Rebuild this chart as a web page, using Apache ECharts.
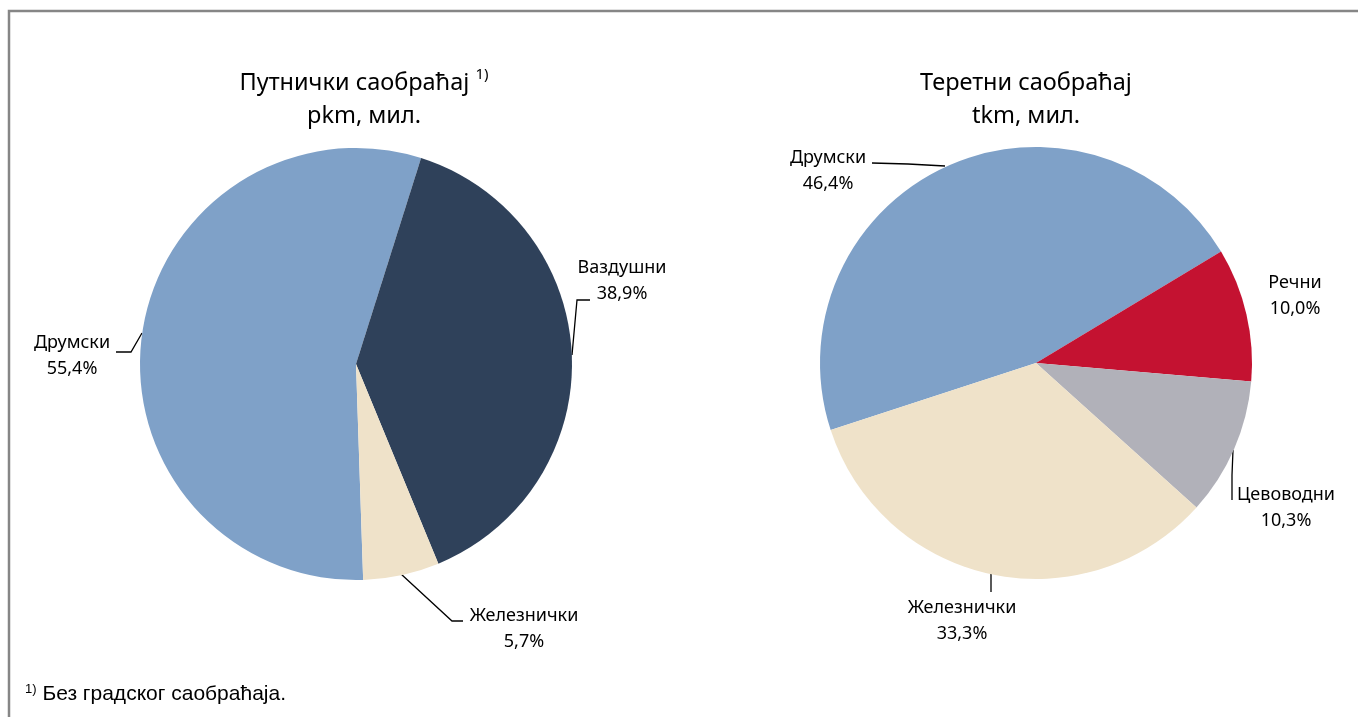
<!DOCTYPE html>
<html>
<head>
<meta charset="utf-8">
<script src="https://cdn.jsdelivr.net/npm/echarts@6/dist/echarts.min.js"></script>
<style>
    html, body { margin: 0; padding: 0; background: #fff; }
    #grafico { width: 1358px; height: 717px; }
</style>
</head>
<body>
<div id="grafico"></div>
<script>
// Podaci
const putnickiKategorije = ['Друмски', 'Ваздушни', 'Железнички'];
const putnickiUdeo = [55.4, 38.9, 5.7];

const teretniKategorije = ['Друмски', 'Речни', 'Цевоводни', 'Железнички'];
const teretniUdeo = [46.4, 10.0, 10.3, 33.3];

const BOJE = {
    'Друмски': '#7FA1C8',
    'Ваздушни': '#2F415A',
    'Железнички': '#EFE2C9',
    'Речни': '#C41231',
    'Цевоводни': '#B1B1B9'
};

const FONT = '"Noto Sans", sans-serif';
const centarLevo = [356, 364];
const centarDesno = [1036, 363];

// položaj natpisa (centar teksta) i linija, relativno u odnosu na centar pite
const natpisiLevo = [
    {pos: [-284, -8], linija: [[-214, -31], [-225, -12], [-240, -12]]},
    {pos: [266, -83], linija: [[216, -9], [221, -64], [234, -64]]},
    {pos: [168, 265], linija: [[45, 210], [96, 257], [107, 257]]}
];
const natpisiDesno = [
    {pos: [-208, -192], linija: [[-91, -197], [-128, -199], [-164, -200]]},
    {pos: [259, -67], linija: null},
    {pos: [250, 145], linija: [[197, 87], [196, 112], [196, 137]]},
    {pos: [-74, 258], linija: [[-45, 211], [-45, 220], [-45, 229]]}
];

function procenat(v) {
    return v.toFixed(1).replace('.', ',') + '%';
}

function napraviSeriju(kategorije, vrednosti, centar, natpisi, pocetniUgao) {
    return {
        type: 'pie',
        radius: 216,
        center: centar,
        startAngle: pocetniUgao,
        clockwise: true,
        avoidLabelOverlap: false,
        animation: false,
        silent: true,
        data: kategorije.map((k, i) => ({
            name: k,
            value: vrednosti[i],
            itemStyle: {color: BOJE[k]},
            labelLine: {show: natpisi[i].linija !== null}
        })),
        label: {
            show: true,
            position: 'outside',
            formatter: p => p.name + '\n' + procenat(p.value),
            fontFamily: FONT,
            fontSize: 18,
            lineHeight: 26,
            color: '#000',
            align: 'center'
        },
        labelLine: {
            show: true,
            lineStyle: {color: '#000', width: 1.3}
        },
        labelLayout: function (params) {
            const n = natpisi[params.dataIndex];
            const res = {
                x: centar[0] + n.pos[0],
                y: centar[1] + n.pos[1],
                align: 'center',
                verticalAlign: 'middle'
            };
            if (n.linija) {
                res.labelLinePoints = n.linija.map(t => [centar[0] + t[0], centar[1] + t[1]]);
            }
            return res;
        }
    };
}

const myChart = echarts.init(document.getElementById('grafico'));

const option = {
    backgroundColor: '#fff',
    title: [
        {
            text: 'Путнички саобраћај {sup|1)}\npkm, мил.',
            left: 359,
            top: 62,
            textAlign: 'center',
            textStyle: {
                fontFamily: FONT,
                fontSize: 23.5,
                fontWeight: 'normal',
                color: '#000',
                lineHeight: 33,
                rich: {
                    sup: {fontFamily: FONT, fontSize: 15, verticalAlign: 'top', padding: [0, 0, 12, 0], color: '#000'}
                }
            }
        },
        {
            text: 'Теретни саобраћај\ntkm, мил.',
            left: 1021,
            top: 62,
            textAlign: 'center',
            textStyle: {
                fontFamily: FONT,
                fontSize: 23.5,
                fontWeight: 'normal',
                color: '#000',
                lineHeight: 33
            }
        }
    ],
    graphic: [
        {
            type: 'polyline',
            shape: {points: [[9, 717], [9, 11], [1358, 11]]},
            style: {stroke: '#868686', lineWidth: 2.5, fill: null}
        },
        {
            type: 'text',
            left: 25,
            top: 683,
            style: {
                text: '{s|1)} Без градског саобраћаја.',
                fontFamily: '"Liberation Sans", Arial, sans-serif',
                fontSize: 21,
                fill: '#000',
                rich: {
                    s: {fontFamily: '"Liberation Sans", Arial, sans-serif', fontSize: 13, verticalAlign: 'top', padding: [0, 0, 10, 0]}
                }
            }
        }
    ],
    series: [
        napraviSeriju(putnickiKategorije, putnickiUdeo, centarLevo, natpisiLevo, 271.9),
        napraviSeriju(teretniKategorije, teretniUdeo, centarDesno, natpisiDesno, 198.1)
    ]
};

myChart.setOption(option);
window.addEventListener('resize', () => myChart.resize());
</script>
</body>
</html>
